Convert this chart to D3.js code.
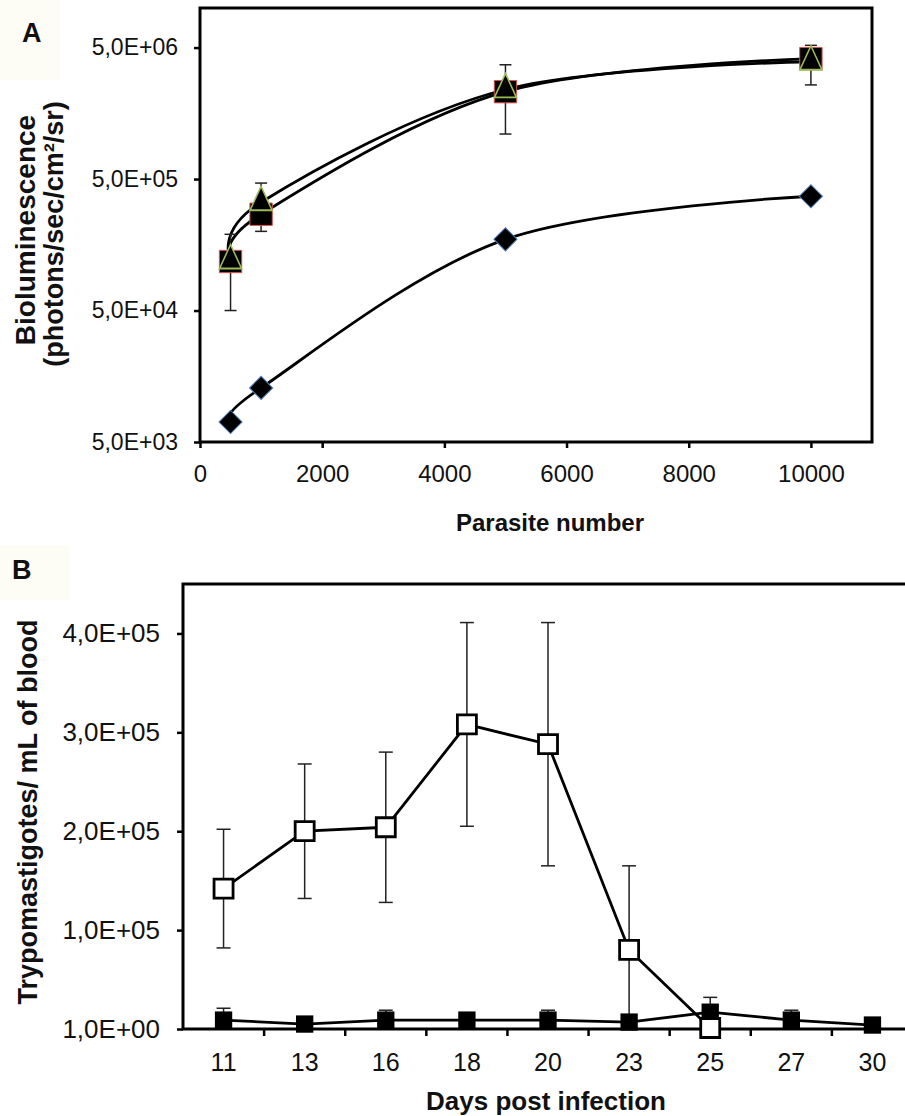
<!DOCTYPE html>
<html>
<head>
<meta charset="utf-8">
<script src="https://cdn.jsdelivr.net/npm/d3@7"></script>
<style>
	body { margin: 0; background: #fff; }
	text { font-family: "Liberation Sans", Arial, sans-serif; fill: #111; }
</style>
</head>
<body>
<svg id="chart" width="905" height="1116"></svg>
<script>
// panel A : bioluminescence vs parasite number (log scale)
const aParasites = [500, 1000, 5000, 10000];
const aDiamond = [7100, 12900, 174000, 370000];
const aSquare = [118000, 270000, 2310000, 4120000];
const aTriangle = [120000, 333000, 2400000, 3900000];
const aTriangleErr = [70000, 133000, 1300000, 1300000];
const aYTicks = [5e3, 5e4, 5e5, 5e6];
const aYLabels = ["5,0E+03", "5,0E+04", "5,0E+05", "5,0E+06"];
const aXTicks = [0, 2000, 4000, 6000, 8000, 10000];

// panel B : parasitaemia by day
const days = ["11", "13", "16", "18", "20", "23", "25", "27", "30"];
const bOpen = [142000, 200000, 204000, 308000, 288000, 80000, 1000, null, null];
const bOpenErr = [60000, 68000, 76000, 103000, 123000, 85000, 0, 0, 0];
const bFilled = [9000, 5000, 9000, 9000, 9000, 7000, 17000, 9000, 4000];
const bFilledErr = [12000, 0, 10000, 0, 10000, 0, 15000, 10000, 0];
const bYTicks = [0, 1e5, 2e5, 3e5, 4e5];
const bYLabels = ["1,0E+00", "1,0E+05", "2,0E+05", "3,0E+05", "4,0E+05"];

const svg = d3.select("#chart");

// ---------- panel A ----------
const xA = d3.scaleLinear().domain([0, 11000]).range([200, 872]);
const yA = d3.scaleLog().domain([5000, 1e7]).range([442, 8]);

svg.append("rect").attr("x", 0).attr("y", 0).attr("width", 60).attr("height", 80).attr("fill", "#fefdf5");
svg.append("text").attr("x", 22).attr("y", 42).style("font-size", "27px").style("font-weight", "bold").text("A");

svg.append("g")
	.attr("transform", "translate(200,0)")
	.call(d3.axisLeft(yA).tickValues(aYTicks).tickFormat((d, i) => aYLabels[i]).tickSize(6).tickPadding(16))
	.call(g => g.select(".domain").remove())
	.call(g => g.selectAll("line").attr("stroke-width", 2.5))
	.call(g => g.selectAll("text").style("font-size", "23px"));

svg.append("g")
	.attr("transform", "translate(0,442)")
	.call(d3.axisBottom(xA).tickValues(aXTicks).tickFormat(d3.format("d")).tickSize(6).tickPadding(17))
	.call(g => g.select(".domain").remove())
	.call(g => g.selectAll("line").attr("stroke-width", 2.5))
	.call(g => g.selectAll("text").style("font-size", "24px"));

svg.append("rect")
	.attr("x", xA(0)).attr("y", yA(1e7))
	.attr("width", xA(11000) - xA(0)).attr("height", yA(5000) - yA(1e7))
	.attr("fill", "none").attr("stroke", "#000").attr("stroke-width", 3);

const lineA = d3.line()
	.x((d, i) => xA(aParasites[i]))
	.y(d => yA(d))
	.curve(d3.curveCardinal.tension(0));

[aDiamond, aSquare, aTriangle].forEach(s => {
	svg.append("path").attr("d", lineA(s))
		.attr("fill", "none").attr("stroke", "#000").attr("stroke-width", 2.8);
});

// error bars
const errA = svg.append("g").attr("stroke", "#222").attr("stroke-width", 1.5);
aTriangle.forEach((v, i) => {
	const x = xA(aParasites[i]);
	const y1 = yA(v + aTriangleErr[i]), y0 = yA(v - aTriangleErr[i]);
	errA.append("line").attr("x1", x).attr("x2", x).attr("y1", y1).attr("y2", y0);
	errA.append("line").attr("x1", x - 6).attr("x2", x + 6).attr("y1", y1).attr("y2", y1);
	errA.append("line").attr("x1", x - 6).attr("x2", x + 6).attr("y1", y0).attr("y2", y0);
});

svg.append("g").selectAll("path").data(aDiamond).join("path")
	.attr("transform", (d, i) => `translate(${xA(aParasites[i])},${yA(d)}) rotate(45)`)
	.attr("d", d3.symbol(d3.symbolSquare, 270))
	.attr("fill", "#000").attr("stroke", "#4f81bd").attr("stroke-width", 1);

svg.append("g").selectAll("path").data(aSquare).join("path")
	.attr("transform", (d, i) => `translate(${xA(aParasites[i])},${yA(d)})`)
	.attr("d", d3.symbol(d3.symbolSquare, 500))
	.attr("fill", "#000").attr("stroke", "#d9534f").attr("stroke-width", 1);

svg.append("g").selectAll("path").data(aTriangle).join("path")
	.attr("transform", (d, i) => `translate(${xA(aParasites[i])},${yA(d)}) scale(1,1.25)`)
	.attr("d", d3.symbol(d3.symbolTriangle, 210))
	.attr("fill", "#000").attr("stroke", "#9bbb59").attr("stroke-width", 1.5);

svg.append("text")
	.attr("transform", "translate(35,230) rotate(-90)")
	.attr("text-anchor", "middle")
	.style("font-size", "28px").style("font-weight", "bold")
	.text("Bioluminescence");
svg.append("text")
	.attr("transform", "translate(63,234) rotate(-90)")
	.attr("text-anchor", "middle")
	.style("font-size", "27px").style("font-weight", "bold")
	.text("(photons/sec/cm²/sr)");
svg.append("text")
	.attr("x", 550).attr("y", 531)
	.attr("text-anchor", "middle")
	.style("font-size", "24px").style("font-weight", "bold")
	.text("Parasite number");

// ---------- panel B ----------
const xB = d3.scaleBand().domain(days).range([183, 913]).padding(0);
const yB = d3.scaleLinear().domain([0, 450000]).range([1029, 584]);
const cx = d => xB(d) + xB.bandwidth() / 2;

svg.append("rect").attr("x", 0).attr("y", 545).attr("width", 70).attr("height", 55).attr("fill", "#fefdf5");
svg.append("text").attr("x", 12).attr("y", 579).style("font-size", "27px").style("font-weight", "bold").text("B");

svg.append("g")
	.attr("transform", "translate(183,0)")
	.call(d3.axisLeft(yB).tickValues(bYTicks).tickFormat((d, i) => bYLabels[i]).tickSize(6).tickPadding(17))
	.call(g => g.select(".domain").remove())
	.call(g => g.selectAll("line").attr("stroke-width", 2.5))
	.call(g => g.selectAll("text").style("font-size", "26px"));

svg.append("g")
	.attr("transform", "translate(0,1029)")
	.call(d3.axisBottom(xB).tickSize(0).tickPadding(24))
	.call(g => g.select(".domain").remove())
	.call(g => g.selectAll("text").style("font-size", "25px"));

// ticks sit on the category boundaries
svg.append("g").selectAll("line").data(days.slice(1)).join("line")
	.attr("x1", d => xB(d)).attr("x2", d => xB(d))
	.attr("y1", 1029).attr("y2", 1036)
	.attr("stroke", "#000").attr("stroke-width", 2.5);

svg.append("path")
	.attr("d", `M905,${yB(450000)}H${xB.range()[0]}V${yB(0)}H905`)
	.attr("fill", "none").attr("stroke", "#000").attr("stroke-width", 3);

const errB = svg.append("g").attr("stroke", "#222").attr("stroke-width", 1.5);
function errorBars(vals, errs) {
	vals.forEach((v, i) => {
		if (v == null || !errs[i]) return;
		const x = cx(days[i]);
		const y1 = yB(v + errs[i]), y0 = yB(Math.max(0, v - errs[i]));
		errB.append("line").attr("x1", x).attr("x2", x).attr("y1", y1).attr("y2", y0);
		errB.append("line").attr("x1", x - 7).attr("x2", x + 7).attr("y1", y1).attr("y2", y1);
		if (v - errs[i] > 0) errB.append("line").attr("x1", x - 7).attr("x2", x + 7).attr("y1", y0).attr("y2", y0);
	});
}
errorBars(bFilled, bFilledErr);
errorBars(bOpen, bOpenErr);

const lineB = d3.line()
	.defined(d => d != null)
	.x((d, i) => cx(days[i]))
	.y(d => yB(d));

svg.append("path").attr("d", lineB(bFilled))
	.attr("fill", "none").attr("stroke", "#000").attr("stroke-width", 2.8);
svg.append("g").selectAll("path").data(bFilled).join("path")
	.attr("transform", (d, i) => `translate(${cx(days[i])},${yB(d)})`)
	.attr("d", d3.symbol(d3.symbolSquare, 300))
	.attr("fill", "#000");

svg.append("path").attr("d", lineB(bOpen))
	.attr("fill", "none").attr("stroke", "#000").attr("stroke-width", 2.8);
svg.append("g").selectAll("path").data(bOpen.filter(d => d != null)).join("path")
	.attr("transform", (d, i) => `translate(${cx(days[i])},${yB(d)})`)
	.attr("d", d3.symbol(d3.symbolSquare, 361))
	.attr("fill", "#fff").attr("stroke", "#000").attr("stroke-width", 2.8);

svg.append("text")
	.attr("transform", "translate(37,812) rotate(-90)")
	.attr("text-anchor", "middle")
	.style("font-size", "27px").style("font-weight", "bold")
	.text("Trypomastigotes/ mL of blood");
svg.append("text")
	.attr("x", 546).attr("y", 1110)
	.attr("text-anchor", "middle")
	.style("font-size", "26px").style("font-weight", "bold")
	.text("Days post infection");
</script>
</body>
</html>
